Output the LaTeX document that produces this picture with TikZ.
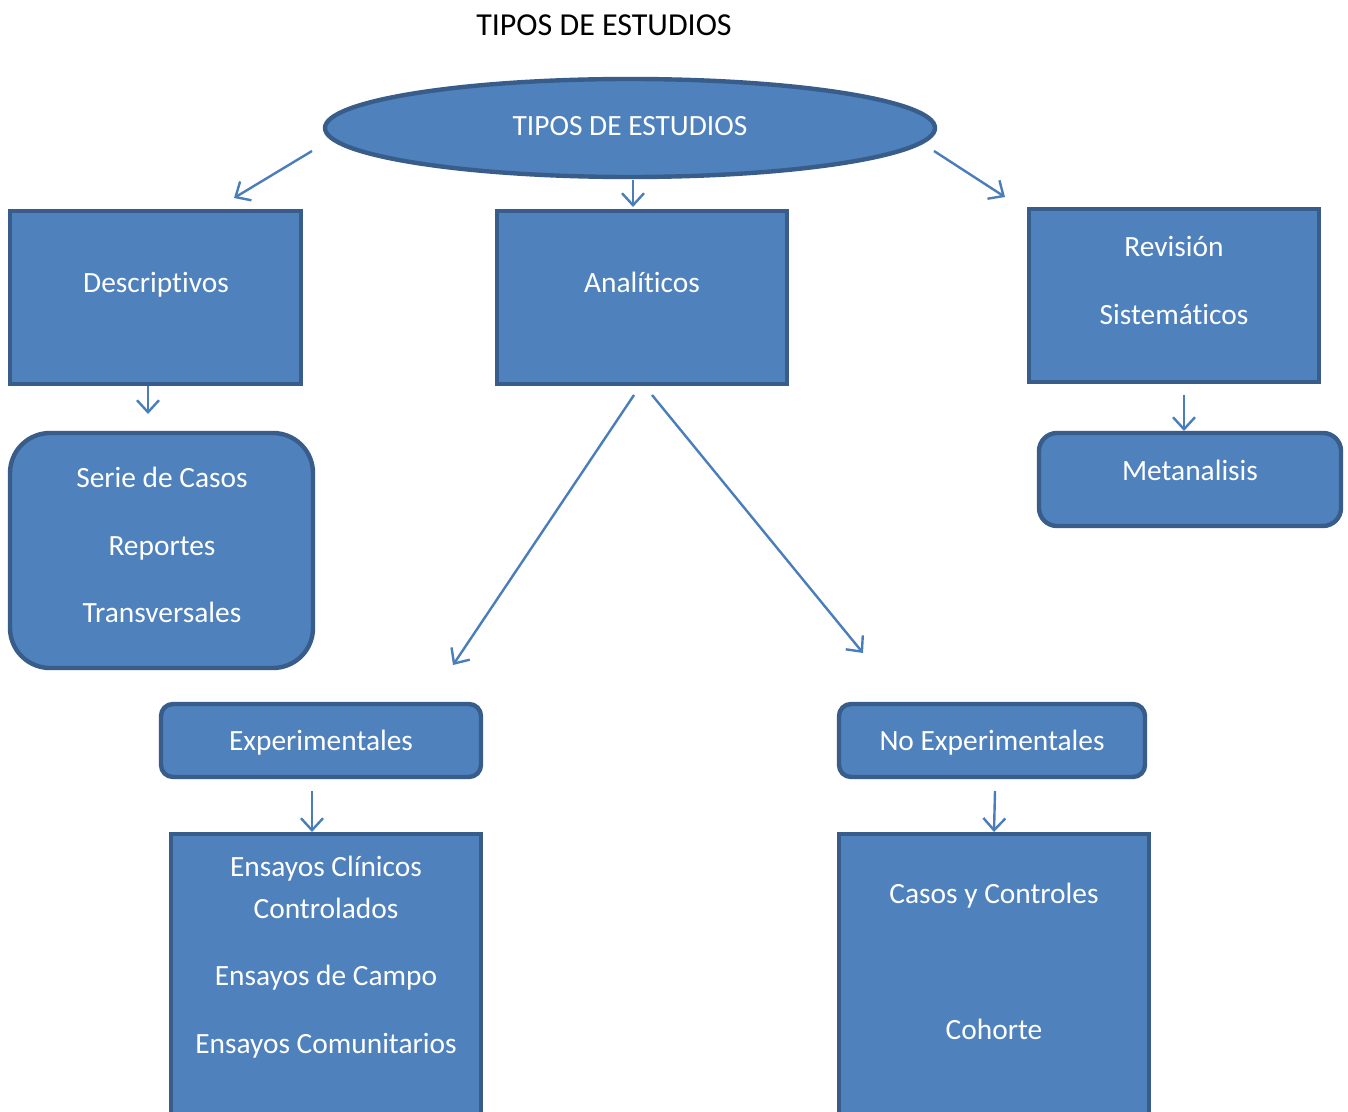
\documentclass[tikz,border=0pt]{standalone}
\usepackage{fontspec}
\setmainfont{Carlito}[Ligatures=NoCommon]
\usetikzlibrary{arrows.meta,shapes.geometric}
\definecolor{boxfill}{HTML}{4F81BD}
\definecolor{boxline}{HTML}{385D8A}
\definecolor{arrowc}{HTML}{4A7EBB}
\tikzset{
  shp/.style={draw=boxline, fill=boxfill, line width=2.2pt, inner sep=0pt, outer sep=0pt},
  rbox/.style={shp, rectangle},
  txt/.style={text=white, font=\fontsize{14.7}{17}\selectfont, anchor=base, inner sep=0pt},
  conn/.style={draw=arrowc, line width=1.2pt, -{Straight Barb[length=6pt,width=11pt,line width=1.2pt]}},
}
\begin{document}
\begin{tikzpicture}[x=0.5pt,y=-0.5pt]
\useasboundingbox (0,0) rectangle (1348,1112);
\clip (0,0) rectangle (1348,1112);
\fill[white] (0,0) rectangle (1348,1112);

\node[anchor=base, inner sep=0pt, font=\fontsize{16}{19}\selectfont] (title) at (604,36) {TIPOS DE ESTUDIOS};

\node[shp, ellipse, minimum width=305pt, minimum height=49pt] (root) at (630,128) {};
\node[txt] (roott) at (630,136) {TIPOS DE ESTUDIOS};

\node[rbox, minimum width=145.5pt, minimum height=86.5pt] (desc) at (155.5,297.5) {};
\node[txt] (desct) at (156,293) {Descriptivos};

\node[rbox, minimum width=145pt, minimum height=86.5pt] (anal) at (642,297.5) {};
\node[txt] (analt) at (642,293) {Analíticos};

\node[rbox, minimum width=145pt, minimum height=86.5pt] (rev) at (1174,295.5) {};
\node[txt] (revt1) at (1174,257) {Revisión};
\node[txt] (revt2) at (1174,325) {Sistemáticos};

\node[rbox, rounded corners=20pt, minimum width=151.5pt, minimum height=117.5pt] (serie) at (161.5,550.5) {};
\node[txt] (seriet1) at (162,487) {Serie de Casos};
\node[txt] (seriet2) at (162,555) {Reportes};
\node[txt] (seriet3) at (162,622) {Transversales};

\node[rbox, rounded corners=9pt, minimum width=151pt, minimum height=46.5pt] (meta) at (1190,479.5) {};
\node[txt] (metat) at (1190,480) {Metanalisis};

\node[rbox, rounded corners=6pt, minimum width=160pt, minimum height=36.5pt] (exp) at (321,740.5) {};
\node[txt] (expt) at (321,750) {Experimentales};

\node[rbox, rounded corners=6pt, minimum width=153pt, minimum height=36.5pt] (noexp) at (992,740.5) {};
\node[txt] (noexpt) at (992,750) {No Experimentales};

\node[rbox, minimum width=155pt, minimum height=148pt] (ens) at (326,982) {};
\node[txt] (enst1) at (326,876) {Ensayos Clínicos};
\node[txt] (enst2) at (326,918) {Controlados};
\node[txt] (enst3) at (326,985) {Ensayos de Campo};
\node[txt] (enst4) at (326,1053) {Ensayos Comunitarios};

\node[rbox, minimum width=155pt, minimum height=148pt] (casos) at (994,982) {};
\node[txt] (casost1) at (994,903) {Casos y Controles};
\node[txt] (casost2) at (994,1039) {Cohorte};

% arrow end points
\coordinate (a1s) at (312,151); \coordinate (a1e) at (234,198);
\coordinate (a2s) at (633,180); \coordinate (a2e) at (633,207);
\coordinate (a3s) at (934,151); \coordinate (a3e) at (1005,197);
\coordinate (a4s) at (148,386); \coordinate (a4e) at (148,414);
\coordinate (a5s) at (634,395); \coordinate (a5e) at (453,665);
\coordinate (a6s) at (652,395); \coordinate (a6e) at (863,653);
\coordinate (a7s) at (1184,395); \coordinate (a7e) at (1184,431);
\coordinate (a8s) at (312,791); \coordinate (a8e) at (312,832);
\coordinate (a9s) at (995,791); \coordinate (a9e) at (994,832);

\draw[conn] (a1s) -- (a1e);
\draw[conn] (a2s) -- (a2e);
\draw[conn] (a3s) -- (a3e);
\draw[conn] (a4s) -- (a4e);
\draw[conn] (a5s) -- (a5e);
\draw[conn] (a6s) -- (a6e);
\draw[conn] (a7s) -- (a7e);
\draw[conn] (a8s) -- (a8e);
\draw[conn] (a9s) -- (a9e);
\end{tikzpicture}
\end{document}
